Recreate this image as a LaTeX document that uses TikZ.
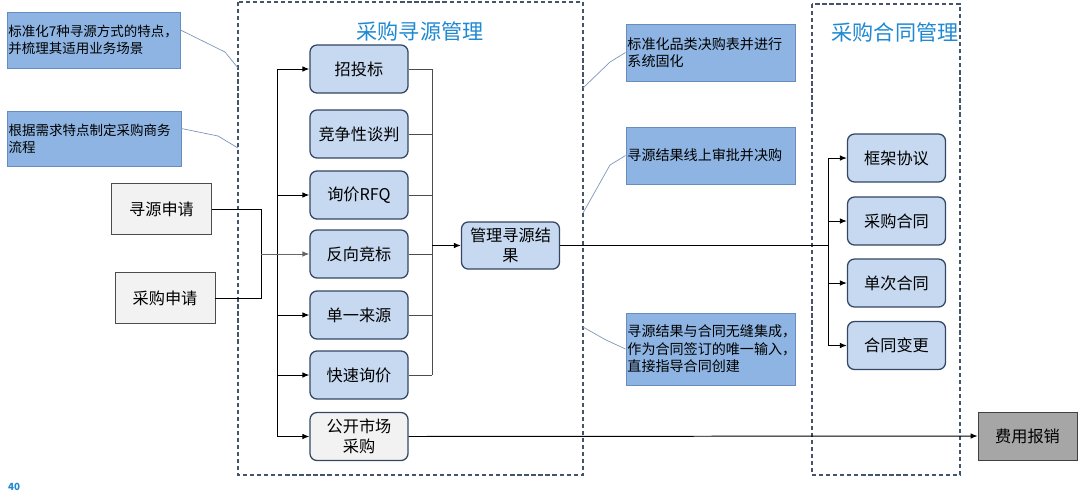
\documentclass[tikz,border=0pt]{standalone}
\usepackage{fontspec}
\setmainfont{Noto Sans CJK SC}
\usetikzlibrary{arrows.meta}
\definecolor{notefill}{RGB}{141,180,226}
\definecolor{noteedge}{RGB}{105,140,190}
\definecolor{stepfill}{RGB}{198,217,240}
\definecolor{stepedge}{RGB}{52,70,100}
\definecolor{inputfill}{RGB}{242,242,242}
\definecolor{costfill}{RGB}{166,166,166}
\definecolor{titleblue}{RGB}{30,136,210}
\definecolor{frameedge}{RGB}{68,84,106}
\definecolor{leadline}{RGB}{125,150,185}

\tikzset{
  method/.style={draw=stepedge, fill=stepfill, rounded corners=5pt, line width=0.9pt,
    minimum width=2.45cm, minimum height=1.2cm, align=center,
    font=\fontsize{11.5}{14}\selectfont},
  request/.style={draw=black!70, fill=inputfill, line width=0.6pt,
    minimum width=2.5cm, minimum height=1.28cm, font=\fontsize{11.5}{14}\selectfont},
  note/.style={draw=noteedge, fill=notefill, line width=0.5pt, inner xsep=1pt,
    align=left, font=\fontsize{10}{12.5}\selectfont},
  frame/.style={draw=frameedge, dash pattern=on 3pt off 2pt, line width=0.9pt},
  flow/.style={-{Latex[length=5pt,width=4pt]}, line width=0.7pt},
  lead/.style={draw=leadline, line width=0.5pt},
}

\begin{document}
\begin{tikzpicture}[x=0.025cm, y=-0.025cm]
  \useasboundingbox (0,0) rectangle (1080,495);

  % dashed frames
  \draw[frame] (238,2) rectangle (583,475);
  \draw[frame] (812,4) rectangle (960,475);
  \node[text=titleblue, font=\fontsize{15}{18}\selectfont] (srcTitle) at (420,31) {采购寻源管理};
  \node[text=titleblue, font=\fontsize{15}{18}\selectfont] (conTitle) at (895,32) {采购合同管理};

  % notes
  \node[note, minimum width=4.33cm, minimum height=1.4cm, text width=4.25cm, font=\fontsize{9.6}{12}\selectfont]
    (n1) at (93.5,40) {标准化7种寻源方式的特点，\\并梳理其适用业务场景};
  \node[note, minimum width=4.35cm, minimum height=1.38cm, text width=4.27cm, font=\fontsize{9.6}{12}\selectfont]
    (n2) at (94,138.5) {根据需求特点制定采购商务\\流程};
  \node[note, minimum width=4.23cm, minimum height=1.43cm, text width=4.15cm]
    (n3) at (710.5,52.5) {标准化品类决购表并进行\\系统固化};
  \node[note, minimum width=4.23cm, minimum height=1.43cm, text width=4.15cm]
    (n4) at (710.5,155.5) {寻源结果线上审批并决购};
  \node[note, minimum width=4.23cm, minimum height=1.8cm, text width=4.15cm]
    (n5) at (710.5,349) {寻源结果与合同无缝集成，\\作为合同签订的唯一输入，\\直接指导合同创建};

  \coordinate (e1) at (238,68);
  \coordinate (e2) at (238,148);
  \coordinate (e3) at (583,88);
  \coordinate (e4) at (583,213);
  \coordinate (e5) at (583,327);
  \draw[lead] (n1.east) ++(0,-10) -- (225,52) -- (e1);
  \draw[lead] (n2.east) ++(0,-10) -- (218,136) -- (e2);
  \draw[lead] (e3) -- (610,62) -- (n3.west);
  \draw[lead] (e4) -- (610,165) -- (n4.west);
  \draw[lead] (e5) -- (606,340) -- (n5.west);

  % sourcing methods
  \node[method] (m1) at (359,69) {招投标};
  \node[method] (m2) at (359,134) {竞争性谈判};
  \node[method] (m3) at (359,195) {询价RFQ};
  \node[method] (m4) at (359,254) {反向竞标};
  \node[method] (m5) at (359,315) {单一来源};
  \node[method] (m6) at (359,375) {快速询价};
  \node[method, fill=inputfill] (m7) at (359,436.5) {公开市场\\采购};
  \node[method, minimum height=1.18cm] (result) at (510.5,245.5) {管理寻源结\\果};

  % requests
  \node[request] (req1) at (161.5,209) {寻源申请};
  \node[request] (req2) at (165,298) {采购申请};

  % contracts
  \node[method] (c1) at (896.5,158) {框架协议};
  \node[method] (c2) at (896.5,221) {采购合同};
  \node[method] (c3) at (896.5,283) {单次合同};
  \node[method] (c4) at (896.5,345.5) {合同变更};

  \node[draw=black!75, fill=costfill, minimum width=2.48cm, minimum height=1.2cm,
    font=\fontsize{11.5}{14}\selectfont] (cost) at (1027.5,436) {费用报销};

  \node[text=titleblue, font=\fontsize{7}{8}\selectfont\bfseries] (page) at (14,487) {40};

  % connectors
  \coordinate (feed) at (277,0);
  \coordinate (joint) at (261,0);
  \coordinate (merge) at (432,0);
  \coordinate (branch) at (828,0);

  \draw[line width=0.7pt] (feed |- m1) -- (feed |- m7);
  \foreach \m in {m1,m3,m5,m6,m7}
    \draw[flow] (\m.west -| feed) -- (\m.west);
  \draw[line width=0.6pt] (req1.east) -- (joint |- req1) -- (joint |- req2) -- (req2.east);
  \draw[flow, black!60] (joint |- m4) -- (m4.west);

  \foreach \m in {m1,m2,m3,m4,m5,m6}
    \draw[line width=0.6pt, black!70] (\m.east) -- (\m.east -| merge);
  \draw[line width=0.6pt, black!70] (merge |- m1) -- (merge |- m6);
  \draw[flow] (merge |- result) -- (result.west);

  \draw[line width=0.9pt] (result.east) -- (branch |- result);
  \draw[line width=0.7pt] (branch |- c1) -- (branch |- c4);
  \foreach \c in {c1,c2,c3,c4}
    \draw[flow] (\c.west -| branch) -- (\c.west);

  \draw[flow] (m7.east) -- (cost.west);
\end{tikzpicture}
\end{document}
